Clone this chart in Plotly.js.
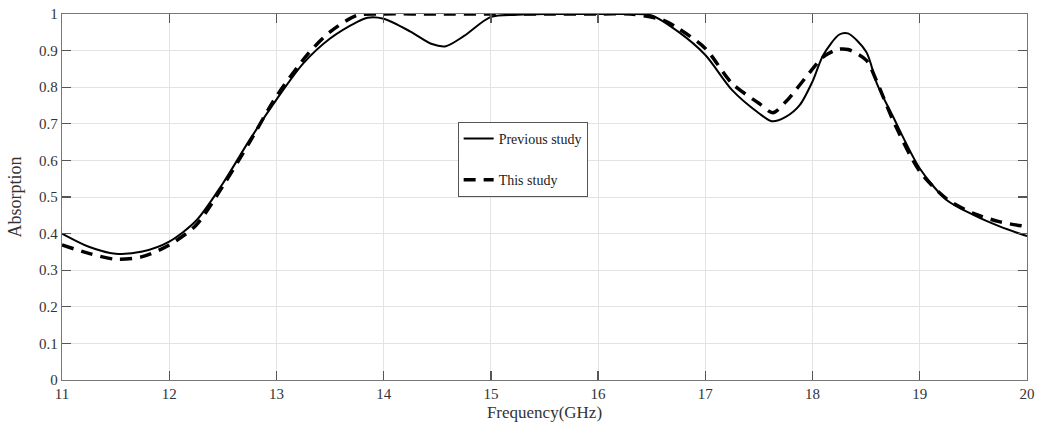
<!DOCTYPE html>
<html>
<head>
<meta charset="utf-8">
<script src="https://cdn.plot.ly/plotly-3.0.1.min.js"></script>
<style>html,body{margin:0;padding:0;background:#fff;}#chart{width:1043px;height:425px;}</style>
</head>
<body>
<div id="chart"></div>
<script>
const freqPrev = [11.0, 11.25, 11.5, 11.75, 12.0, 12.25, 12.5, 12.75, 13.0, 13.25, 13.5, 13.75, 13.85, 14.0, 14.25, 14.45, 14.58, 14.75, 15.0, 15.25, 15.5, 16.0, 16.3, 16.5, 16.75, 17.0, 17.25, 17.5, 17.62, 17.75, 17.88, 18.0, 18.1, 18.25, 18.33, 18.5, 18.6, 18.75, 19.0, 19.25, 19.5, 19.75, 20.0];
const absPrev  = [0.400, 0.364, 0.345, 0.351, 0.378, 0.435, 0.537, 0.656, 0.766, 0.865, 0.933, 0.978, 0.990, 0.987, 0.952, 0.918, 0.912, 0.940, 0.992, 0.998, 1.000, 1.000, 1.000, 0.996, 0.951, 0.888, 0.792, 0.729, 0.707, 0.719, 0.751, 0.816, 0.888, 0.944, 0.947, 0.897, 0.810, 0.720, 0.578, 0.492, 0.451, 0.419, 0.393];

const freqThis = [11.0, 11.25, 11.5, 11.75, 12.0, 12.25, 12.5, 12.75, 13.0, 13.3, 13.5, 13.75, 14.0, 14.5, 15.0, 15.5, 16.0, 16.3, 16.6, 16.75, 17.0, 17.25, 17.5, 17.63, 17.75, 18.0, 18.1, 18.23, 18.33, 18.5, 18.6, 18.75, 19.0, 19.25, 19.5, 19.75, 20.0];
const absThis  = [0.369, 0.346, 0.330, 0.337, 0.369, 0.423, 0.530, 0.650, 0.775, 0.893, 0.951, 0.996, 1.000, 1.000, 1.000, 1.000, 1.000, 1.000, 0.984, 0.960, 0.906, 0.810, 0.756, 0.730, 0.760, 0.850, 0.883, 0.903, 0.903, 0.874, 0.815, 0.710, 0.570, 0.495, 0.455, 0.432, 0.419];

const xTicks = [11, 12, 13, 14, 15, 16, 17, 18, 19, 20];
const yTicks = [0, 0.1, 0.2, 0.3, 0.4, 0.5, 0.6, 0.7, 0.8, 0.9, 1];

const font = 'Liberation Serif, Times New Roman, serif';

const traces = [
  {x: freqPrev, y: absPrev, type: 'scatter', mode: 'lines', name: 'Previous study',
   legendgroup: 'a', line: {color: '#000', width: 2, shape: 'spline', smoothing: 0.8}},
  {x: freqThis, y: absThis, type: 'scatter', mode: 'lines', name: 'This study',
   legendgroup: 'b', line: {color: '#000', width: 3.5, dash: '12px,8px', shape: 'spline', smoothing: 0.8}}
];

const axisCommon = {
  showline: true, linecolor: '#777', linewidth: 1.3, mirror: 'allticks',
  ticks: 'inside', ticklen: 9, tickcolor: '#555', tickwidth: 1.3,
  showgrid: true, gridcolor: '#e3e3e3', gridwidth: 1, zeroline: false,
  tickfont: {family: font, size: 15, color: '#333'}
};

const layout = {
  width: 1043, height: 425,
  margin: {l: 62, r: 16, t: 14, b: 45},
  paper_bgcolor: '#fff', plot_bgcolor: '#fff',
  font: {family: font, color: '#333'},
  xaxis: Object.assign({}, axisCommon, {
    range: [11, 20], tickvals: xTicks, ticktext: xTicks.map(String),
    title: {text: 'Frequency(GHz)', font: {family: font, size: 17, color: '#333'}, standoff: 4}
  }),
  yaxis: Object.assign({}, axisCommon, {
    range: [0, 1], tickvals: yTicks, ticktext: yTicks.map(String),
    title: {text: 'Absorption', font: {family: font, size: 18, color: '#333'}, standoff: 12}
  }),
  showlegend: true,
  legend: {
    x: 0.41, y: 0.705, xanchor: 'left', yanchor: 'top',
    bgcolor: '#fff', bordercolor: '#555', borderwidth: 1,
    font: {family: font, size: 14, color: '#222'},
    traceorder: 'grouped', tracegroupgap: 20, itemwidth: 30
  }
};

Plotly.newPlot('chart', traces, layout, {displayModeBar: false, staticPlot: true});
</script>
</body>
</html>
